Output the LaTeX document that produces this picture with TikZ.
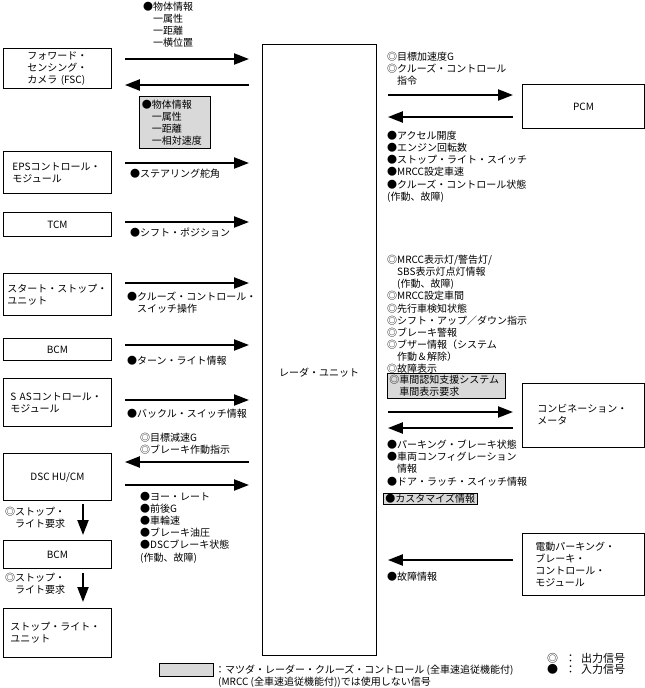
\documentclass[tikz,border=0pt]{standalone}
\usepackage{fontspec}
\setmainfont{Noto Sans CJK JP}
\usetikzlibrary{arrows.meta}
\definecolor{shade}{gray}{0.85}
\tikzset{
  unit/.style={draw, line width=0.9pt, anchor=north west, inner ysep=0pt, minimum width=108pt},
  sig/.style={line width=2.2pt, -{Triangle[length=15pt,width=11pt]}},
  lgap/.style={shorten <=13pt, shorten >=13pt},
  rout/.style={shorten <=11pt, shorten >=9pt},
  rin/.style={shorten <=9pt, shorten >=11pt},
  txt/.style={anchor=north west, inner sep=0pt, align=left},
  note/.style={draw, fill=shade, line width=0.6pt, anchor=north west, align=left}
}
\begin{document}
\begin{tikzpicture}[x=1pt, y=-1pt, font=\fontsize{10}{12.1}\selectfont]
  \useasboundingbox (0,0) rectangle (645,688);
  % units
  \node[unit, minimum width=114pt, minimum height=611pt] (radar) at (262,44) {};
  \node (radarlbl) at (319,373) {レーダ・ユニット};
  \node[unit, minimum height=40pt, text width=60pt, inner xsep=24pt, align=left] (fsc) at (3,48) {フォワード・\\センシング・\\カメラ (FSC)};
  \node[unit, minimum height=42pt, text width=90pt, inner xsep=9pt, align=left] (eps) at (3,151) {EPSコントロール・\\モジュール};
  \node[unit, minimum height=24pt] (tcm) at (3,212) {TCM};
  \node[unit, minimum height=42pt, text width=100pt, inner xsep=4pt, align=left] (sstop) at (3,273) {スタート・ストップ・\\ユニット};
  \node[unit, minimum height=22pt] (bcm) at (3,338) {BCM};
  \node[unit, minimum height=48pt, text width=94pt, inner xsep=7pt, align=left] (sas) at (3,378) {S ASコントロール・\\モジュール};
  \node[unit, minimum height=47pt] (dsc) at (3,453) {DSC HU/CM};
  \node[unit, minimum height=28pt] (bcmb) at (3,540) {BCM};
  \node[unit, minimum height=49pt, text width=94pt, inner xsep=7pt, align=left] (slu) at (3,608) {ストップ・ライト・\\ユニット};
  \node[unit, minimum width=122pt, minimum height=44pt] (pcm) at (522,84) {PCM};
  \node[unit, minimum width=122pt, minimum height=64pt, text width=92pt, inner xsep=15pt, align=left] (meter) at (522,383) {\\[-6pt]コンビネーション・\\メータ};
  \node[unit, minimum width=122pt, minimum height=62pt, text width=96pt, inner xsep=13pt, align=left] (epb) at (522,533) {電動パーキング・\\ブレーキ・\\コントロール・\\モジュール};
  % signals, left side
  \draw[sig, lgap] (fsc.east |- 0,59) -- (radar.west |- 0,59);
  \draw[sig, lgap] (radar.west |- 0,85) -- (fsc.east |- 0,85);
  \draw[sig, lgap] (eps.east |- 0,163) -- (radar.west |- 0,163);
  \draw[sig, lgap] (tcm.east |- 0,222) -- (radar.west |- 0,222);
  \draw[sig, lgap] (sstop.east |- 0,283) -- (radar.west |- 0,283);
  \draw[sig, lgap] (bcm.east |- 0,345) -- (radar.west |- 0,345);
  \draw[sig, lgap] (sas.east |- 0,400) -- (radar.west |- 0,400);
  \draw[sig, lgap] (radar.west |- 0,462) -- (dsc.east |- 0,462);
  \draw[sig, lgap] (dsc.east |- 0,485) -- (radar.west |- 0,485);
  \draw[sig, shorten <=3pt, shorten >=5pt] (dsc.south -| 83,0) -- (bcmb.north -| 83,0);
  \draw[sig, shorten <=4pt, shorten >=6pt] (bcmb.south -| 83,0) -- (slu.north -| 83,0);
  % signals, right side
  \draw[sig, rout] (radar.east |- 0,95) -- (pcm.west |- 0,95);
  \draw[sig, rin] (pcm.west |- 0,117) -- (radar.east |- 0,117);
  \draw[sig, rout] (radar.east |- 0,412) -- (meter.west |- 0,412);
  \draw[sig, rin] (meter.west |- 0,428) -- (radar.east |- 0,428);
  \draw[sig, rin] (epb.west |- 0,560) -- (radar.east |- 0,560);
  % signal texts
  \node[txt] (fscout) at (143,2) {●物体情報\\\hspace*{1em}一属性\\\hspace*{1em}一距離\\\hspace*{1em}一横位置};
  \node[note, minimum width=71pt, minimum height=51pt, text width=66pt, inner xsep=2.5pt] (fscin) at (139,96) {●物体情報\\\hspace*{1em}一属性\\\hspace*{1em}一距離\\\hspace*{1em}一相対速度};
  \node[txt] (epsin) at (130,169) {●ステアリング舵角};
  \node[txt] (tcmin) at (130,228) {●シフト・ポジション};
  \node[txt] (sstopin) at (127,292) {●クルーズ・コントロール・\\\hspace*{1em}スイッチ操作};
  \node[txt] (bcmin) at (127,356) {●ターン・ライト情報};
  \node[txt] (sasin) at (127,409) {●バックル・スイッチ情報};
  \node[txt] (dscout) at (140,433) {◎目標減速G\\◎ブレーキ作動指示};
  \node[txt] (dscin) at (140,492) {●ヨー・レート\\●前後G\\●車輪速\\●ブレーキ油圧\\●DSCブレーキ状態\\(作動、故障)};
  \node[txt] (stopa) at (5,507) {◎ストップ・\\\hspace*{1em}ライト要求};
  \node[txt] (stopb) at (5,573) {◎ストップ・\\\hspace*{1em}ライト要求};
  \node[txt] (pcmout) at (387,52) {◎目標加速度G\\◎クルーズ・コントロール\\\hspace*{1em}指令};
  \node[txt] (pcmin) at (387,131) {●アクセル開度\\●エンジン回転数\\●ストップ・ライト・スイッチ\\●MRCC設定車速\\●クルーズ・コントロール状態\\(作動、故障)};
  \node[txt] (meterout) at (387,255) {◎MRCC表示灯/警告灯/\\\hspace*{1em}SBS表示灯点灯情報\\\hspace*{1em}(作動、故障)\\◎MRCC設定車間\\◎先行車検知状態\\◎シフト・アップ／ダウン指示\\◎ブレーキ警報\\◎ブザー情報（システム\\\hspace*{1em}作動＆解除）\\◎故障表示};
  \node[note, minimum width=118pt, minimum height=25pt, text width=114pt, inner xsep=2pt, inner ysep=1pt] (metergap) at (387,373) {◎車間認知支援システム\\\hspace*{1em}車間表示要求};
  \node[txt] (meterin) at (387,440) {●パーキング・ブレーキ状態\\●車両コンフィグレーション\\\hspace*{1em}情報\\●ドア・ラッチ・スイッチ情報};
  \node[note, anchor=west, inner xsep=2pt, inner ysep=1pt] (custom) at (383,499) {●カスタマイズ情報};
  \node[txt] (epbin) at (387,572) {●故障情報};
  % legend
  \node[note, minimum width=54pt, minimum height=13pt, inner sep=0pt] (keybox) at (159,663) {};
  \node[txt] (keytext) at (215,665) {：マツダ・レーダー・クルーズ・コントロール (全車速追従機能付)\\\hspace*{3pt}(MRCC (全車速追従機能付))では使用しない信号};
  \node[txt, font=\fontsize{11}{11}\selectfont] (sigkey) at (547,653) {◎\hspace{7pt}：\hspace{5pt}出力信号\\●\hspace{7pt}：\hspace{5pt}入力信号};
\end{tikzpicture}
\end{document}
